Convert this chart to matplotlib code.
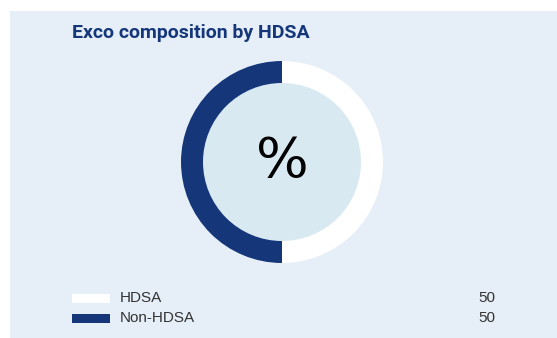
import matplotlib.pyplot as plt
from matplotlib.patches import Rectangle

# data
labels = ["HDSA", "Non-HDSA"]
values = [50, 50]
colors = ["#ffffff", "#15377a"]

W, H = 557, 338
BG = "#e6eff7"
INNER = "#d9e9f2"
NAVY = "#15377a"

fig = plt.figure(figsize=(W / 100, H / 100), dpi=100)
fig.patch.set_facecolor("white")

# panel background
fig.patches.append(Rectangle((10 / W, 0), 1 - 10 / W, (H - 11) / H,
                             transform=fig.transFigure, facecolor=BG,
                             edgecolor="none", zorder=-5))

# title
fig.text(72 / W, 1 - 33 / H, "Exco composition by HDSA", color=NAVY,
         fontsize=14, fontweight="bold", family="Roboto", va="center", ha="left")

# donut
cx, cy, r = 282, H - 162, 101
ax = fig.add_axes([(cx - r) / W, (cy - r) / H, 2 * r / W, 2 * r / H])
ax.patch.set_visible(False)
ax.pie(values, colors=colors, startangle=90, counterclock=False, radius=1,
       wedgeprops=dict(width=22 / 101, edgecolor="none"))
ax.add_patch(plt.Circle((0, 0), 79 / 101, color=INNER, zorder=0))
ax.text(0, 0, "%", fontsize=40, ha="center", va="center", color="black", family="DejaVu Sans")
ax.set_xlim(-1, 1)
ax.set_ylim(-1, 1)
ax.set_aspect("equal")
ax.axis("off")

# legend rows
for i, (lab, val, col) in enumerate(zip(labels, values, colors)):
    yc = 1 - (298 + 20 * i) / H
    fig.patches.append(Rectangle((72 / W, yc - 4.5 / H), 38 / W, 9 / H,
                                 transform=fig.transFigure, facecolor=col,
                                 edgecolor="none", zorder=1))
    fig.text(120 / W, yc, lab, fontsize=11, color="#333333", va="center",
             ha="left", family="Liberation Sans")
    fig.text(495 / W, yc, str(val), fontsize=11, color="#333333", va="center",
             ha="right", family="Liberation Sans")

fig.savefig("out.png", dpi=100)
